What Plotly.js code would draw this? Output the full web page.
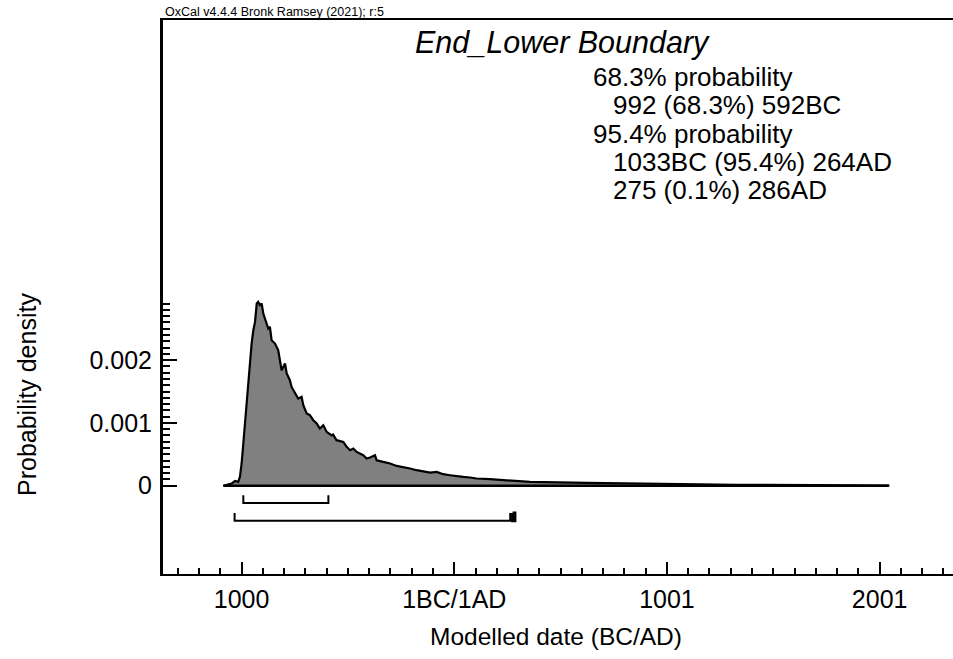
<!DOCTYPE html>
<html>
<head>
<meta charset="utf-8">
<script src="https://cdn.plot.ly/plotly-3.0.1.min.js"></script>
<style>html,body{margin:0;padding:0;background:#fff;}#chart{width:953px;height:659px;}</style>
</head>
<body>
<div id="chart"></div>
<script>
// Calendar positions: 1BC/1AD boundary = 1, BC years as -(n-1)
const years = [-1085,-1046,-1030,-1015,-1007,-999,-991,-983,-975,-968,-960,-952,-944,-936,-928,-921,-913,-905,-897,-889,-881,-874,-866,-858,-842,-827,-811,-795,-787,-772,-764,-748,-733,-717,-709,-693,-678,-662,-646,-631,-615,-599,-576,-569,-553,-521,-505,-489,-474,-458,-427,-411,-395,-372,-364,-333,-301,-270,-239,-207,-176,-145,-113,-82,-51,-19,12,43,75,106,169,231,294,357,624,827,1094,1329,1700,2046];
const density = [0,0.000035,0.000076,0.000061,0.000140,0.000354,0.000672,0.000990,0.001361,0.001680,0.001998,0.002264,0.002476,0.002608,0.002901,0.002927,0.002874,0.002901,0.002742,0.002662,0.002583,0.002503,0.002529,0.002317,0.002264,0.002158,0.001839,0.001946,0.001787,0.001680,0.001573,0.001468,0.001389,0.001414,0.001282,0.001150,0.001123,0.001043,0.000990,0.000911,0.000963,0.000857,0.000800,0.000815,0.000725,0.000697,0.000618,0.000565,0.000592,0.000538,0.000486,0.000433,0.000449,0.000486,0.000406,0.000379,0.000354,0.000315,0.000299,0.000274,0.000247,0.000231,0.000210,0.000220,0.000183,0.000167,0.000151,0.000140,0.000131,0.000115,0.000104,0.000088,0.000076,0.000061,0.000045,0.000035,0.000025,0.000015,0.000008,0.000003];

// Highest posterior density ranges (from the legend text)
const range68 = [[-991, -591]];             // 992BC – 592BC
const range95 = [[-1032, 264], [275, 286]]; // 1033BC – 264AD, 275 – 286AD

const xTickVals = [-999, 1, 1001, 2001];
const xTickText = ['1000', '1BC/1AD', '1001', '2001'];
const yTickVals = [0, 0.001, 0.002];
const yTickText = ['0', '0.001', '0.002'];

const titleText = 'End_Lower Boundary';
const infoLines = ['68.3% probability', '992 (68.3%) 592BC', '95.4% probability', '1033BC (95.4%) 264AD', '275 (0.1%) 286AD'];
const infoIndent = [false, true, false, true, true];
const headerText = 'OxCal v4.4.4 Bronk Ramsey (2021); r:5';

// ---- layout helpers (pixels -> paper) ----
const L = 163, R = 953, T = 20, B = 574;
const px = v => (v - L) / (R - L);
const py = v => (B - v) / (B - T);

const yMinor = [];
for (let i = 0; i <= 29; i++) yMinor.push(+(i * 0.0001).toFixed(4));

const traces = [];
traces.push({
  x: years, y: density, type: 'scatter', mode: 'lines',
  line: {color: '#000', width: 2.2}, fill: 'tozeroy', fillcolor: '#808080',
  hoverinfo: 'skip'
});
traces.push({
  x: [years[0], years[years.length - 1]], y: [0, 0], type: 'scatter', mode: 'lines',
  line: {color: '#000', width: 2.5}, hoverinfo: 'skip'
});

function bracket(r, level, h, w) {
  return {
    x: [r[0], r[0], r[1], r[1]], y: [level + h, level, level, level + h],
    type: 'scatter', mode: 'lines', line: {color: '#000', width: w}, hoverinfo: 'skip'
  };
}
const lev68 = -0.000275, lev95 = -0.000560, hb = 0.000125;
range68.forEach(r => traces.push(bracket(r, lev68, hb, 2)));
range95.forEach(r => {
  if (r[1] - r[0] < 30) {
    traces.push({
      x: [r[0], r[1], r[1], r[0], r[0]], y: [lev95 + hb, lev95 + hb, lev95, lev95, lev95 + hb],
      type: 'scatter', mode: 'lines', fill: 'toself', fillcolor: '#000',
      line: {color: '#000', width: 3}, hoverinfo: 'skip'
    });
  } else {
    traces.push(bracket(r, lev95, hb, 2));
  }
});

const FONT = 'Liberation Sans, Arial, Helvetica, sans-serif';
const ann = [];
ann.push({text: headerText, x: px(163), y: py(11.5), xref: 'paper', yref: 'paper', xanchor: 'left', yanchor: 'middle',
  showarrow: false, font: {family: FONT, size: 12.5, color: '#000'}});
ann.push({text: '<i>' + titleText + '</i>', x: px(413), y: py(42), xref: 'paper', yref: 'paper', xanchor: 'left', yanchor: 'middle',
  showarrow: false, font: {family: FONT, size: 30.5, color: '#000'}});
infoLines.forEach((t, i) => {
  ann.push({text: t, x: px(infoIndent[i] ? 611 : 591), y: py(77 + i * 28.3), xref: 'paper', yref: 'paper',
    xanchor: 'left', yanchor: 'middle', showarrow: false, font: {family: FONT, size: 26, color: '#000'}});
});
ann.push({text: 'Modelled date (BC/AD)', x: px(556), y: py(636), xref: 'paper', yref: 'paper', xanchor: 'center', yanchor: 'middle',
  showarrow: false, font: {family: FONT, size: 24.5, color: '#000'}});
ann.push({text: 'Probability density', x: px(27), y: py(395), xref: 'paper', yref: 'paper', xanchor: 'center', yanchor: 'middle',
  textangle: -90, showarrow: false, font: {family: FONT, size: 25, color: '#000'}});

const layout = {
  width: 953, height: 659,
  margin: {l: L, r: 953 - R, t: T, b: 659 - B, pad: 0},
  paper_bgcolor: '#fff', plot_bgcolor: '#fff',
  showlegend: false,
  font: {family: FONT, size: 25, color: '#000'},
  xaxis: {
    range: [-1368.7, 2346], showline: true, linewidth: 2, linecolor: '#000', mirror: true,
    ticks: 'inside', ticklen: 12, tickwidth: 2, tickcolor: '#000',
    tickmode: 'array', tickvals: xTickVals, ticktext: xTickText,
    showgrid: false, zeroline: false, ticklabelstandoff: 2,
    minor: {ticks: 'inside', tickmode: 'linear', tick0: 1, dtick: 100, ticklen: 6, tickwidth: 2, tickcolor: '#000', showgrid: false}
  },
  yaxis: {
    range: [-0.001406, 0.007416], showline: true, linewidth: 3, linecolor: '#000', mirror: false,
    ticks: 'inside', ticklen: 14, tickwidth: 2, tickcolor: '#000',
    tickmode: 'array', tickvals: yTickVals, ticktext: yTickText,
    showgrid: false, zeroline: false, ticklabelstandoff: 3,
    minor: {ticks: 'inside', tickmode: 'array', tickvals: yMinor, ticklen: 7, tickwidth: 2, tickcolor: '#000', showgrid: false}
  },
  annotations: ann
};

Plotly.newPlot('chart', traces, layout, {staticPlot: true, displayModeBar: false});
</script>
</body>
</html>
